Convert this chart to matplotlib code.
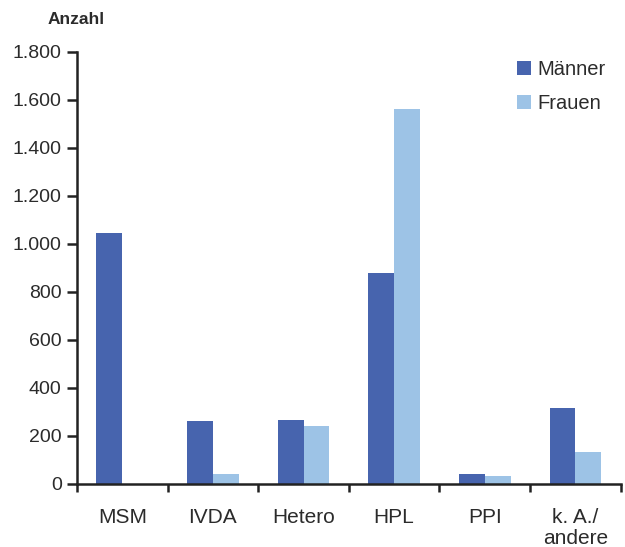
import matplotlib.pyplot as plt
import numpy as np
from matplotlib.ticker import FuncFormatter, FixedLocator

categories = ["MSM", "IVDA", "Hetero", "HPL", "PPI", "k. A./\nandere"]
maenner = [1046, 262, 267, 879, 42, 317]
frauen = [0, 43, 242, 1562, 33, 133]
series_labels = ["Männer", "Frauen"]
yticks = [0, 200, 400, 600, 800, 1000, 1200, 1400, 1600, 1800]

plt.rcParams['font.family'] = ['Liberation Sans', 'DejaVu Sans']
text_color = '#2b2b2b'

fig = plt.figure(figsize=(6.25, 5.47), dpi=100)
ax = fig.add_axes([0.1232, 0.1152, 0.8698, 0.7898])

x = np.arange(len(categories))
w = 0.285
ax.bar(x - w / 2, maenner, w, color='#4764ae', label=series_labels[0])
ax.bar(x + w / 2, frauen, w, color='#9dc3e6', label=series_labels[1])

ax.set_xlim(-0.5, len(categories) - 0.5)
ax.set_ylim(0, 1800)
ax.set_yticks(yticks)
ax.yaxis.set_major_formatter(FuncFormatter(lambda v, p: f"{int(v):,}".replace(",", ".")))

# category labels centered, ticks at group boundaries
ax.set_xticks(x)
ax.set_xticklabels(categories, fontsize=15, color=text_color, linespacing=1.15)
ax.tick_params(axis='x', which='major', length=0, pad=17)
ax.xaxis.set_minor_locator(FixedLocator(np.arange(-0.5, len(categories), 1.0)))
ax.tick_params(axis='x', which='minor', length=6, width=1.8, color='#222222', direction='out')

ax.tick_params(axis='y', length=7, width=1.8, color='#222222', labelsize=14,
               labelcolor=text_color, pad=4)

for s in ['top', 'right']:
    ax.spines[s].set_visible(False)
for s in ['left', 'bottom']:
    ax.spines[s].set_linewidth(1.8)
    ax.spines[s].set_color('#222222')

fig.text(48 / 625, 1 - 20 / 547, "Anzahl", fontsize=12.5, fontweight='bold',
         color=text_color, va='center', ha='left')

ax.legend(loc='upper left', bbox_to_anchor=(499 / 625, 1 - 42 / 547),
          bbox_transform=fig.transFigure, frameon=False, fontsize=14.5,
          handlelength=0.7, handleheight=0.7, handletextpad=0.3,
          labelspacing=0.72, labelcolor=text_color)

fig.savefig("out.png", dpi=100)
